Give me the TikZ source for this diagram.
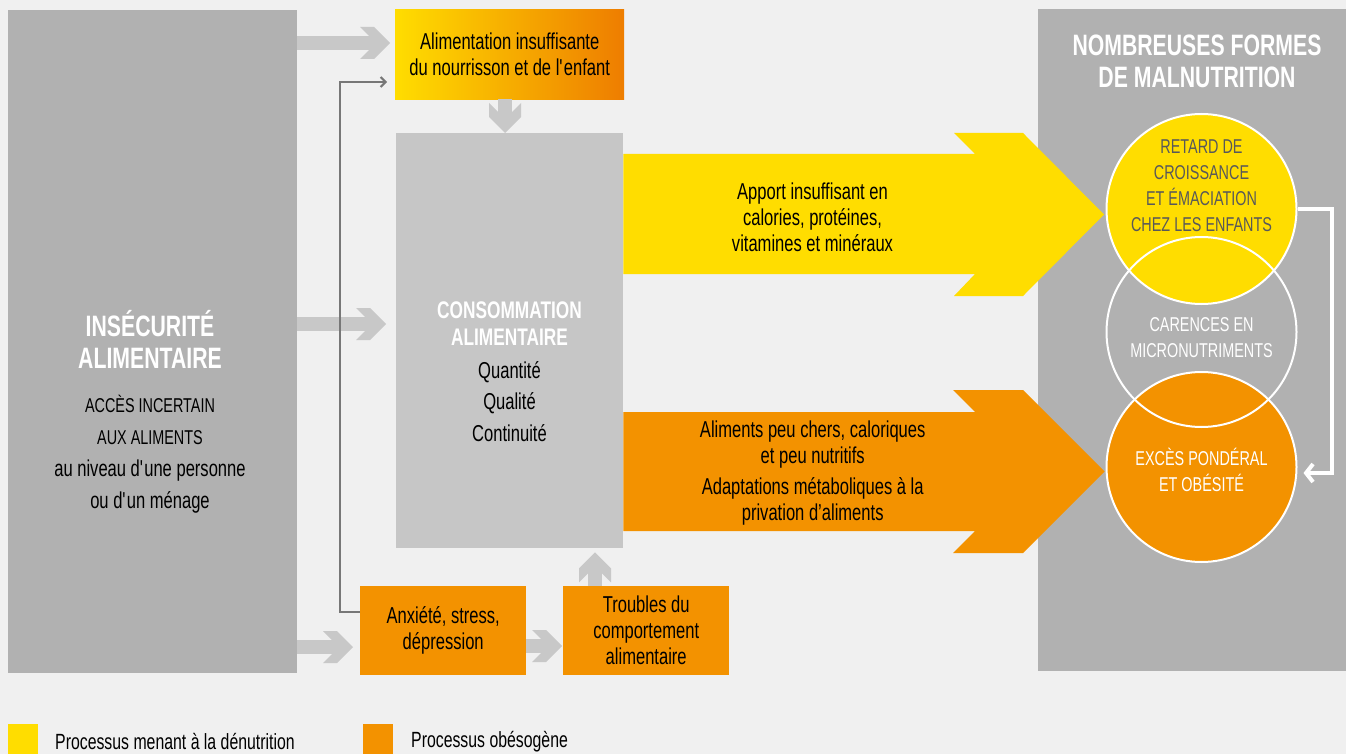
\documentclass[tikz,border=0pt]{standalone}
\usepackage{fontspec}
\setmainfont{Liberation Sans}[FakeStretch=0.72]
\usetikzlibrary{calc,arrows.meta}

\definecolor{bggray}{HTML}{F0F0F0}
\definecolor{boxdark}{HTML}{B1B1B1}
\definecolor{boxmid}{HTML}{C6C6C6}
\definecolor{arrowlight}{HTML}{C8C8C8}
\definecolor{yellowc}{HTML}{FFDD00}
\definecolor{orangec}{HTML}{F39200}
\definecolor{gradorange}{HTML}{EE7D00}
\definecolor{linegray}{HTML}{777777}
\definecolor{circtext}{HTML}{58585A}

\tikzset{
	panel/.style={rectangle, inner sep=0pt, anchor=north west, align=center, font=\fontsize{23}{26}\selectfont},
	txt/.style={inner sep=0pt, align=center, font=\fontsize{23}{26}\selectfont},
	captxt/.style={inner sep=0pt, align=center, font=\fontsize{20}{26}\selectfont},
	title/.style={inner sep=0pt, align=center, text=white, font=\bfseries\fontsize{29.5}{32}\selectfont},
	ring/.style={circle, inner sep=0pt, minimum size=190pt, draw=white, line width=2pt},
	thinlink/.style={draw=linegray, line width=2pt, -{Straight Barb[length=5pt, width=10pt]}},
	whitelink/.style={draw=white, line width=4pt, -{Straight Barb[length=7pt, width=18pt]}},
}

\def\fatarrow(#1)(#2)(#3){%
	\draw[line width=14pt, color=arrowlight] (#1) -- ($(#2)!20pt!(#1)$);
	\fill[arrowlight, shift={(#2)}, rotate=#3] (0pt,0pt) -- (-16pt,16pt) -- (-30pt,16pt) -- (-21pt,7pt) -- (-21pt,-7pt) -- (-30pt,-16pt) -- (-16pt,-16pt) -- cycle;}

\begin{document}
\begin{tikzpicture}[x=1pt, y=-1pt]
		%%%%% START %%%%%
		\useasboundingbox (0,0) rectangle (1346,754);
		\fill[bggray] (0,0) rectangle (1346,754);
		
		\node[panel, fill=boxdark, minimum width=289pt, minimum height=663pt] (insec) at (8,10) {};
		\node[panel, fill=boxdark, minimum width=308pt, minimum height=662pt] (malnu) at (1038,9) {};
		\node[panel, left color=yellowc, right color=gradorange, minimum width=229pt, minimum height=90pt] (feed) at (395,9) {Alimentation insuffisante\\du nourrisson et de l\textquotesingle enfant};
		\node[panel, fill=boxmid, minimum width=227pt, minimum height=415pt] (conso) at (396,133) {};
		\node[panel, fill=orangec, minimum width=166pt, minimum height=89pt] (anx) at (360,586) {Anxiété, stress,\\dépression};
		\node[panel, fill=orangec, minimum width=166pt, minimum height=89pt] (troub) at (563,586) {Troubles du\\comportement\\alimentaire};
		
		\node[title] (insectitle) at (150,339) {INSÉCURITÉ\\ALIMENTAIRE};
		\node[txt, font=\fontsize{23}{32}\selectfont] (insectxt) at (150,454.5) {{\fontsize{20}{32}\selectfont ACCÈS INCERTAIN}\\{\fontsize{20}{32}\selectfont AUX ALIMENTS}\\au niveau d\textquotesingle une personne\\ou d\textquotesingle un ménage};
		\node[title] (malnutitle) at (1197,61) {NOMBREUSES FORMES\\DE MALNUTRITION};
		\node[title, font=\bfseries\fontsize{24}{27}\selectfont] (consotitle) at (509.5,323.5) {CONSOMMATION\\ALIMENTAIRE};
		\node[txt, font=\fontsize{23}{31.5}\selectfont] (consotxt) at (509.5,401.5) {Quantité\\Qualité\\Continuité};
		
		% big arrows
		\fill[yellowc] (conso.east |- 0,154) -- (975,154) -- (954,133) -- (1023,133) -- (1104,214.5) -- (1023,296) -- (954,296) -- (975,274) -- (conso.east |- 0,274) -- cycle;
		\fill[orangec] (conso.east |- 0,412) -- (975,412) -- (953,390) -- (1023,390) -- (1104.5,471.5) -- (1023,553) -- (953,553) -- (975,531) -- (conso.east |- 0,531) -- cycle;
		\node[txt] (undertxt) at (812.5,217) {Apport insuffisant en\\calories, protéines,\\vitamines et minéraux};
		\node[txt] (overtxt) at (812.7,473.5) {Aliments peu chers, caloriques\\et peu nutritifs\\[5pt]Adaptations métaboliques à la\\privation d’aliments};
		
		% circles
		\node[ring, fill=yellowc] (yel) at (1201.5,209) {};
		\node[ring, fill=orangec] (ora) at (1201.5,467) {};
		\node[ring] (mid) at (1201.5,332) {};
		\node[captxt, text=circtext] (yeltxt) at (1201.5,186) {RETARD DE\\CROISSANCE\\ET ÉMACIATION\\CHEZ LES ENFANTS};
		\node[captxt, text=white] (midtxt) at (1201.5,338) {CARENCES EN\\MICRONUTRIMENTS};
		\node[captxt, text=white] (oratxt) at (1201.5,469.5) {EXCÈS PONDÉRAL\\ET OBÉSITÉ};
		
		\coordinate (turn) at (1332,0);
		\draw[whitelink] (yel.east) -- (yel.east -| turn) |- ([xshift=6pt]ora.east |- 0,473);
		
		% gray arrows
		\coordinate (a1) at ([xshift=-5pt]feed.west |- 0,43);
		\fatarrow(insec.east |- a1)(a1)(0)
		\coordinate (a2) at ([xshift=-10pt]conso.west |- 0,324);
		\fatarrow(insec.east |- a2)(a2)(0)
		\coordinate (a3) at ([xshift=-7pt]anx.west |- 0,647);
		\fatarrow(insec.east |- a3)(a3)(0)
		\coordinate (a4) at ([xshift=-1pt]troub.west |- 0,646);
		\fatarrow(anx.east |- a4)(a4)(0)
		\coordinate (a5) at (conso.north -| 505,0);
		\fatarrow(feed.south -| a5)(a5)(-90)
		\coordinate (a6) at ([yshift=-4pt]conso.south -| 595,0);
		\fatarrow(troub.north -| a6)(a6)(90)
		
		\coordinate (bend) at (340,82);
		\draw[thinlink] (anx.west |- 0,612) -| (bend) -- ([xshift=-8pt]feed.west |- bend);
		
		% legend
		\node[panel, fill=yellowc, minimum width=30pt, minimum height=30pt] (legyel) at (8,724) {};
		\node[txt, anchor=west, font=\fontsize{22}{24}\selectfont] (legyeltxt) at (55,742) {Processus menant à la dénutrition};
		\node[panel, fill=orangec, minimum width=30pt, minimum height=30pt] (legora) at (363,724) {};
		\node[txt, anchor=west, font=\fontsize{22}{24}\selectfont] (legoratxt) at (411,742) {Processus obésogène};
		
		%%%%% END %%%%%
\end{tikzpicture}
\end{document}
